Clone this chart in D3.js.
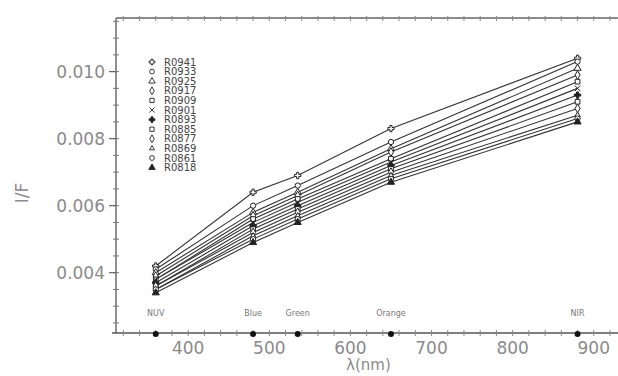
<!DOCTYPE html>
<meta charset="utf-8" />
<script src="https://d3js.org/d3.v7.min.js"></script>
<div id="chart"></div>
<script>
  // band centres (nm) and the filter names written above the axis
  const bands = [360, 480, 535, 650, 880];
  const bandNames = ["NUV", "Blue", "Green", "Orange", "NIR"];

  // legend labels, one per curve
  const names = ["R0941", "R0933", "R0925", "R0917", "R0909", "R0901",
                 "R0893", "R0885", "R0877", "R0869", "R0861", "R0818"];

  // I/F values per curve at the five bands
  const s1  = [0.0042, 0.0064, 0.0069, 0.0083, 0.0104];
  const s2  = [0.0041, 0.0060, 0.0066, 0.0079, 0.0103];
  const s3  = [0.0040, 0.0058, 0.0064, 0.0077, 0.0101];
  const s4  = [0.0039, 0.0057, 0.0063, 0.0076, 0.0099];
  const s5  = [0.0038, 0.0056, 0.0062, 0.0074, 0.0097];
  const s6  = [0.0038, 0.0055, 0.0061, 0.0073, 0.0095];
  const s7  = [0.0037, 0.0054, 0.0060, 0.0072, 0.0093];
  const s8  = [0.0036, 0.0053, 0.0059, 0.0071, 0.0091];
  const s9  = [0.0036, 0.0052, 0.0058, 0.0070, 0.0089];
  const s10 = [0.0035, 0.0051, 0.0057, 0.0069, 0.0087];
  const s11 = [0.0035, 0.0050, 0.0056, 0.0068, 0.0086];
  const s12 = [0.0034, 0.0049, 0.0055, 0.0067, 0.0085];
  const series = [s1, s2, s3, s4, s5, s6, s7, s8, s9, s10, s11, s12];

  const xTicks = [400, 500, 600, 700, 800, 900];
  const yTicks = [0.004, 0.006, 0.008, 0.010];

  const W = 618, H = 376;
  const m = { left: 116, top: 18, right: 640, bottom: 333 };

  const svg = d3.select("#chart").append("svg")
    .attr("width", W).attr("height", H)
    .style("font-family", "DejaVu Sans, sans-serif");
  d3.select("body").style("margin", 0).style("background", "#fff");

  const x = d3.scaleLinear().domain([311, 957]).range([m.left, m.right]);
  const y = d3.scaleLinear().domain([0.0022, 0.0116]).range([m.bottom, m.top]);

  const grey = "#8a8a8a";

  // frame lines (left, bottom, top)
  svg.append("line").attr("x1", m.left).attr("x2", m.left).attr("y1", m.top).attr("y2", m.bottom)
    .attr("stroke", "#555").attr("stroke-width", 1.3);
  svg.append("line").attr("x1", m.left - 4).attr("x2", W).attr("y1", m.bottom).attr("y2", m.bottom)
    .attr("stroke", "#555").attr("stroke-width", 1.3);
  svg.append("line").attr("x1", m.left).attr("x2", W).attr("y1", m.top).attr("y2", m.top)
    .attr("stroke", "#666").attr("stroke-width", 1.3);

  // minor ticks
  const yMinor = d3.range(0.0025, 0.0116, 0.0005);
  svg.selectAll(".ym").data(yMinor).join("line")
    .attr("x1", m.left - 3).attr("x2", m.left + 3)
    .attr("y1", d => y(d)).attr("y2", d => y(d))
    .attr("stroke", "#777");
  const xMinor = d3.range(320, 960, 20);
  svg.selectAll(".xm").data(xMinor).join("line")
    .attr("x1", d => x(d)).attr("x2", d => x(d))
    .attr("y1", m.bottom - 3).attr("y2", m.bottom + 3)
    .attr("stroke", "#888");
  svg.selectAll(".xt").data(xMinor).join("line")
    .attr("x1", d => x(d)).attr("x2", d => x(d))
    .attr("y1", m.top - 2).attr("y2", m.top + 3)
    .attr("stroke", "#888");

  // y axis major ticks and labels
  svg.selectAll(".yt").data(yTicks).join("line")
    .attr("x1", m.left - 7).attr("x2", m.left)
    .attr("y1", d => y(d)).attr("y2", d => y(d))
    .attr("stroke", "#666").attr("stroke-width", 1.2);
  svg.selectAll(".yl").data(yTicks).join("text")
    .attr("x", m.left - 11).attr("y", d => y(d) + 6)
    .attr("text-anchor", "end").attr("font-size", 17).attr("fill", grey)
    .text(d => d3.format(".3f")(d));

  // x axis labels
  svg.selectAll(".xl").data(xTicks).join("text")
    .attr("x", d => x(d)).attr("y", m.bottom + 21)
    .attr("text-anchor", "middle").attr("font-size", 17).attr("fill", grey)
    .text(d => d);

  svg.append("text").attr("x", x(600) + 18).attr("y", H - 6)
    .attr("text-anchor", "middle").attr("font-size", 15).attr("fill", grey)
    .text("λ(nm)");
  svg.append("text")
    .attr("transform", `translate(28, 193) rotate(-90)`)
    .attr("text-anchor", "middle").attr("font-size", 17).attr("fill", grey)
    .text("I/F");

  // band markers on the axis and names
  svg.selectAll(".bd").data(bands).join("circle")
    .attr("cx", d => x(d)).attr("cy", m.bottom + 1).attr("r", 3).attr("fill", "#111");
  svg.selectAll(".bn").data(bandNames).join("text")
    .attr("x", (d, i) => x(bands[i])).attr("y", m.bottom - 17)
    .attr("text-anchor", "middle").attr("font-size", 8).attr("fill", "#777")
    .text(d => d);

  // marker symbols per curve
  const shapes = [d3.symbolCross, d3.symbolCircle, d3.symbolTriangle, d3.symbolDiamond,
                  d3.symbolSquare, d3.symbolTimes, d3.symbolCross, d3.symbolSquare,
                  d3.symbolDiamond, d3.symbolTriangle2, d3.symbolCircle, d3.symbolTriangle];
  const filled = [false, false, false, false, false, false, true, false, false, false, false, true];

  const line = d3.line().x((d, i) => x(bands[i])).y(d => y(d));

  series.forEach((s, k) => {
    svg.append("path").attr("d", line(s))
      .attr("fill", "none").attr("stroke", "#333").attr("stroke-width", 1.1);
    const sym = d3.symbol().type(shapes[k]).size(22);
    svg.selectAll(null).data(s).join("path")
      .attr("d", sym)
      .attr("transform", (d, i) => `translate(${x(bands[i])},${y(d)})`)
      .attr("fill", filled[k] ? "#222" : "#fff")
      .attr("stroke", "#222").attr("stroke-width", 1);
  });

  // legend
  const lg = svg.append("g").attr("transform", "translate(152, 62)");
  names.forEach((n, k) => {
    const sym = d3.symbol().type(shapes[k]).size(18);
    lg.append("path").attr("d", sym)
      .attr("transform", `translate(0, ${k * 9.6})`)
      .attr("fill", filled[k] ? "#222" : "#fff")
      .attr("stroke", "#222").attr("stroke-width", 0.9);
    lg.append("text").attr("x", 12).attr("y", k * 9.6 + 3.5)
      .attr("font-size", 10).attr("fill", "#444")
      .text(n);
  });
</script>
